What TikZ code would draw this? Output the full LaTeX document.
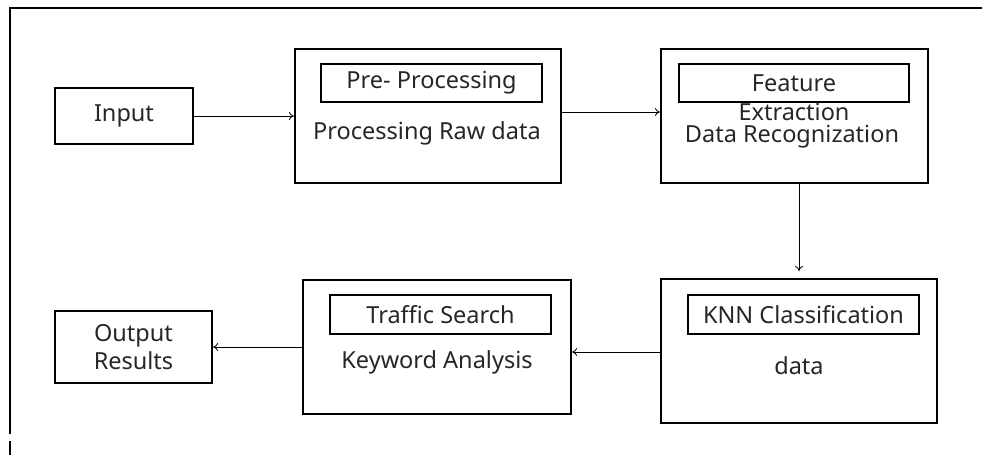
\documentclass[tikz,border=0pt]{standalone}
\usepackage{fontspec}
\setmainfont{Noto Sans}
\usetikzlibrary{arrows.meta}
\begin{document}
\begin{tikzpicture}[x=1pt,y=-1pt,
  txt/.style={font=\fontsize{23.5}{28}\selectfont, text=black!85, inner sep=0pt},
  bigbox/.style={draw, line width=2.2pt, minimum width=#1, inner sep=0pt},
  smallbox/.style={draw, line width=1.1pt, inner sep=0pt, minimum height=38pt, font=\fontsize{23.5}{28}\selectfont, text=black!85},
  arr/.style={line width=0.8pt, -{To[length=5pt,width=8pt]}},
  frame/.style={line width=2pt}
]
\useasboundingbox (0,0) rectangle (982,455);
% outer frame
\draw[frame] (982,8) -- (10,8) -- (10,434);
\draw[frame] (10,441) -- (10,455);

% Input
\node[bigbox=138pt, minimum height=56pt, txt] (inp) at (124,116) {Input};

% Pre-processing
\node[bigbox=266pt, minimum height=134pt] (pre) at (428,116) {};
\node[smallbox, minimum width=221pt] (prein) at (431.5,83) {Pre- Processing};
\node[txt] (pret) at (427,133) {Processing Raw data};

% Feature
\node[bigbox=267pt, minimum height=134pt] (feat) at (794.5,116) {};
\node[smallbox, minimum width=230pt] (featin) at (794,83) {Feature};
\node[txt] (featx) at (794,112) {Extraction};
\node[txt] (featt) at (792,136.5) {Data Recognization};

% KNN
\node[bigbox=276pt, minimum height=144pt] (knn) at (799,351) {};
\node[smallbox, minimum width=231pt, minimum height=39pt] (knnin) at (803.5,314.5) {KNN Classification};
\node[txt] (knnt) at (799,366) {data};

% Traffic
\node[bigbox=268pt, minimum height=134pt] (trf) at (437,347) {};
\node[smallbox, minimum width=221pt, minimum height=39pt] (trfin) at (440.5,314.5) {Traffic Search};
\node[txt] (trft) at (437,362) {Keyword Analysis};

% Output
\node[bigbox=157pt, minimum height=72pt, txt, align=center] (out) at (133.5,347) {Output\\Results};

% connectors
\draw[arr] (inp.east) -- (pre.west);
\path ([yshift=4pt]pre.east) coordinate (p1);
\draw[arr] (p1) -- (p1 -| feat.west);
\path (feat.south -| 799,0) coordinate (f1);
\draw[arr, shorten >=7pt] (f1) -- (f1 |- knn.north);
\path ([yshift=-1pt]knn.west) coordinate (k1);
\draw[arr] (k1) -- (k1 -| trf.east);
\draw[arr] (trf.west) -- (out.east);
\end{tikzpicture}
\end{document}
